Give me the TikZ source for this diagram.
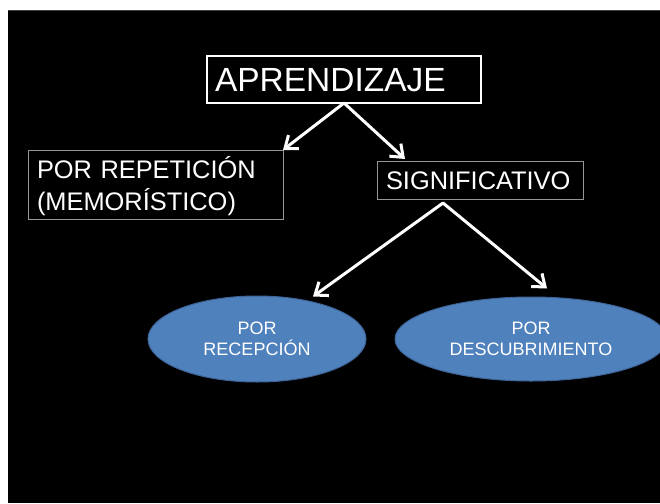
\documentclass[tikz,border=0pt]{standalone}
\usepackage{fontspec}
\setmainfont{Liberation Sans}
\usetikzlibrary{arrows.meta,shapes.geometric}
\definecolor{slideblue}{RGB}{79,129,189}
\definecolor{ellline}{RGB}{62,100,152}
\definecolor{boxgray}{RGB}{150,150,150}
\begin{document}
\begin{tikzpicture}[x=1pt,y=-1pt,
  txt/.style={text=white, inner ysep=0pt, outer sep=0pt, align=left},
  conn/.style={draw=white, line width=3pt, line join=round,
    {Straight Barb[length=11pt,width=17pt]}-{Straight Barb[length=11pt,width=17pt]}},
  oval/.style={ellipse, fill=slideblue, draw=ellline, line width=1pt, text=white,
    inner sep=0pt, align=center, font=\fontsize{18}{20.7}\selectfont}]
\useasboundingbox (0,0) rectangle (660,503);
\fill[white] (0,0) rectangle (660,503);
\fill[black] (8,10) rectangle (660,503);
\draw[black!75, line width=1pt] (8,10.5) -- (660,10.5);

\node[txt, draw=white, line width=2pt, inner xsep=8pt, text width=258pt,
  text height=35.7pt, text depth=11.3pt, anchor=base west,
  font=\fontsize{33.5}{40}\selectfont] (apr) at (207,91.7) {APRENDIZAJE};

\node[txt, draw=boxgray, line width=1pt, inner xsep=9pt, text width=237pt,
  text height=28pt, text depth=41pt, anchor=base west,
  font=\fontsize{25.4}{32}\selectfont] (rep) at (28,178) {POR REPETICIÓN\\(MEMORÍSTICO)};

\node[txt, draw=boxgray, line width=1pt, inner xsep=9pt, text width=188pt,
  text height=28.3pt, text depth=9.7pt, anchor=base west,
  font=\fontsize{25.4}{30}\selectfont] (sig) at (377,189.3) {SIGNIFICATIVO};

\node[oval, minimum width=218pt, minimum height=86pt] (rec) at (257,339) {POR\\RECEPCIÓN};
\node[oval, minimum width=272pt, minimum height=84pt] (des) at (531,339) {POR\\DESCUBRIMIENTO};

\coordinate (sigfork) at ([xshift=-37pt,yshift=-4pt]sig.south);

\draw[conn] (rep.north east) -- (apr.south) -- ([xshift=28pt,yshift=2pt]sig.north west);
\draw[conn] ([xshift=56pt,yshift=-1pt]rec.north) -- (sigfork) -- ([xshift=16pt,yshift=8pt]des.north);
\end{tikzpicture}
\end{document}
